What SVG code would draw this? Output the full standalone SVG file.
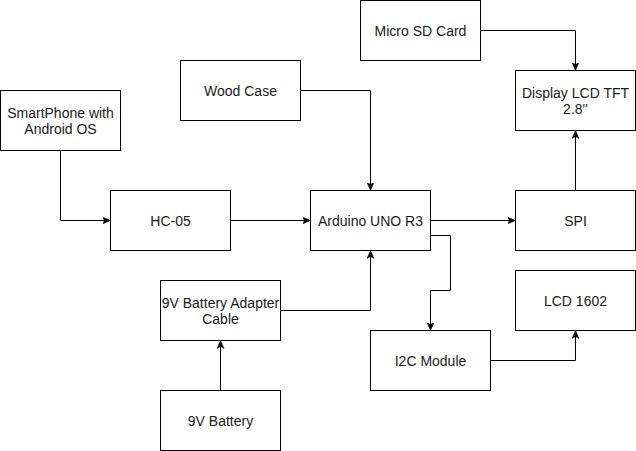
<svg xmlns="http://www.w3.org/2000/svg" width="636" height="451" viewBox="0 0 636 451">
<style>
.n rect{fill:#fff;stroke:#000;stroke-width:1}
.n text{font-family:"Liberation Sans",Arial,Helvetica,sans-serif;font-size:14px;fill:#1a1a1a;text-anchor:middle}
.c path{fill:none;stroke:#000;stroke-width:1;marker-end:url(#a)}
</style>
<defs>
<marker id="a" markerUnits="userSpaceOnUse" viewBox="0 0 8 8" refX="7.5" refY="4" markerWidth="8" markerHeight="8" orient="auto">
<path d="M0,0.5 L8,4 L0,7.5 L2,4 Z" fill="#000" stroke="#000" stroke-width="0.5"/>
</marker>
</defs>
<rect width="636" height="451" fill="#fff"/>
<g class="c" id="connectors">
<path d="M60.5,150.5 V220.5 H110"/>
<path d="M230.5,220.5 H310"/>
<path d="M300.5,90.5 H370.5 V190"/>
<path d="M280.5,310.5 H370.5 V251"/>
<path d="M220.5,390.5 V341"/>
<path d="M430.5,220.5 H515"/>
<path d="M430.5,235.5 H450.5 V290.5 H430.5 V330"/>
<path d="M490.5,360.5 H575.5 V331"/>
<path d="M575.5,190.5 V131"/>
<path d="M480.5,30.5 H575.5 V70"/>
</g>
<g class="n" id="smartphone"><rect x="0.5" y="90.5" width="120" height="60"/><text x="60.5" y="117.5">SmartPhone with</text><text x="60.5" y="133.5">Android OS</text></g>
<g class="n" id="hc05"><rect x="110.5" y="190.5" width="120" height="60"/><text x="170.5" y="225.5">HC-05</text></g>
<g class="n" id="woodcase"><rect x="180.5" y="60.5" width="120" height="60"/><text x="240.5" y="95.5">Wood Case</text></g>
<g class="n" id="arduino"><rect x="310.5" y="190.5" width="120" height="60"/><text x="370.5" y="225.5">Arduino UNO R3</text></g>
<g class="n" id="adapter"><rect x="160.5" y="280.5" width="120" height="60"/><text x="220.5" y="307.5">9V Battery Adapter</text><text x="220.5" y="323.5">Cable</text></g>
<g class="n" id="battery"><rect x="160.5" y="390.5" width="120" height="60"/><text x="220.5" y="425.5">9V Battery</text></g>
<g class="n" id="microsd"><rect x="360.5" y="0.5" width="120" height="60"/><text x="420.5" y="35.5">Micro SD Card</text></g>
<g class="n" id="display"><rect x="515.5" y="70.5" width="120" height="60"/><text x="575.5" y="97.5">Display LCD TFT</text><text x="575.5" y="113.5">2.8''</text></g>
<g class="n" id="spi"><rect x="515.5" y="190.5" width="120" height="60"/><text x="575.5" y="225.5">SPI</text></g>
<g class="n" id="lcd1602"><rect x="515.5" y="270.5" width="120" height="60"/><text x="575.5" y="305.5">LCD 1602</text></g>
<g class="n" id="i2c"><rect x="370.5" y="330.5" width="120" height="60"/><text x="430.5" y="365.5">I2C Module</text></g>
</svg>
